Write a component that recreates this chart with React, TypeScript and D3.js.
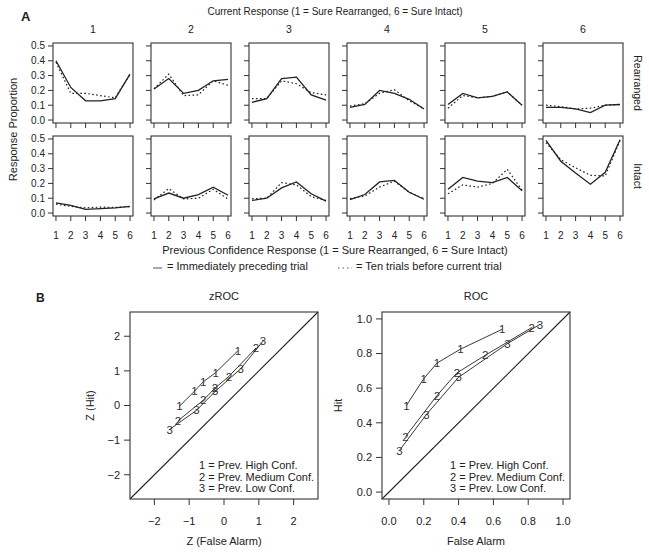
import React from "react";
import * as d3 from "d3";

// Panel A: response proportion by previous confidence response (1..6),
// one array per current response (1..6)
const responses = [1, 2, 3, 4, 5, 6];
const currentLabels = ["1", "2", "3", "4", "5", "6"];
const rowLabels = ["Rearranged", "Intact"];
const propTicks = [0, 0.1, 0.2, 0.3, 0.4, 0.5];

const rearrangedPrev1 = [
  [0.40, 0.22, 0.13, 0.13, 0.145, 0.31],
  [0.21, 0.28, 0.18, 0.20, 0.265, 0.275],
  [0.12, 0.145, 0.28, 0.29, 0.17, 0.135],
  [0.085, 0.105, 0.20, 0.18, 0.14, 0.075],
  [0.105, 0.18, 0.15, 0.16, 0.19, 0.10],
  [0.085, 0.085, 0.075, 0.05, 0.10, 0.105],
];
const rearrangedPrev10 = [
  [0.39, 0.18, 0.18, 0.165, 0.15, 0.31],
  [0.21, 0.31, 0.165, 0.17, 0.265, 0.235],
  [0.145, 0.145, 0.265, 0.245, 0.185, 0.17],
  [0.095, 0.11, 0.18, 0.205, 0.13, 0.075],
  [0.08, 0.165, 0.15, 0.16, 0.19, 0.10],
  [0.10, 0.09, 0.075, 0.08, 0.10, 0.105],
];
const intactPrev1 = [
  [0.068, 0.052, 0.025, 0.03, 0.035, 0.045],
  [0.095, 0.135, 0.10, 0.125, 0.175, 0.12],
  [0.085, 0.10, 0.17, 0.21, 0.13, 0.08],
  [0.09, 0.125, 0.21, 0.22, 0.14, 0.093],
  [0.16, 0.24, 0.215, 0.205, 0.24, 0.15],
  [0.49, 0.35, 0.27, 0.195, 0.275, 0.495],
];
const intactPrev10 = [
  [0.06, 0.045, 0.035, 0.04, 0.038, 0.043],
  [0.088, 0.165, 0.095, 0.10, 0.16, 0.095],
  [0.097, 0.10, 0.205, 0.19, 0.11, 0.085],
  [0.097, 0.115, 0.175, 0.215, 0.14, 0.097],
  [0.13, 0.19, 0.175, 0.20, 0.295, 0.155],
  [0.475, 0.36, 0.305, 0.255, 0.25, 0.49],
];

// Panel B: [false alarm, hit] points
const rocHigh = [[0.10, 0.50], [0.20, 0.655], [0.276, 0.745], [0.41, 0.825], [0.65, 0.94]];
const rocMed = [[0.095, 0.32], [0.276, 0.558], [0.39, 0.688], [0.553, 0.79], [0.82, 0.95]];
const rocLow = [[0.06, 0.24], [0.215, 0.448], [0.40, 0.663], [0.68, 0.857], [0.867, 0.968]];

const zHigh = [[-1.28, -0.02], [-0.85, 0.41], [-0.60, 0.68], [-0.24, 0.95], [0.40, 1.58]];
const zMed = [[-1.32, -0.44], [-0.60, 0.15], [-0.26, 0.50], [0.14, 0.84], [0.92, 1.66]];
const zLow = [[-1.56, -0.69], [-0.79, -0.14], [-0.25, 0.41], [0.48, 1.06], [1.12, 1.86]];

const legendLines = ["1 = Prev. High Conf.", "2 = Prev. Medium Conf.", "3 = Prev. Low Conf."];
const zTicks = [-2, -1, 0, 1, 2];
const rocTicks = [0, 0.2, 0.4, 0.6, 0.8, 1.0];

const FONT = "'Liberation Sans', Arial, sans-serif";
const INK = "#222";

const PW = 80, PH = 80, P_LEFT = 53, P_STEP = 98;
const ROW_TOP = [43, 136];

function SmallPanel({ x0, y0, imm, ten, yLabels, xLabels }) {
  const x = d3.scaleLinear().domain([0.8, 6.2]).range([0, PW]);
  const y = d3.scaleLinear().domain([-0.02, 0.52]).range([PH, 0]);
  const line = d3.line<number>().x((_, i) => x(responses[i])).y(d => y(d));
  return (
    <g transform={`translate(${x0},${y0})`}>
      <path d={line(ten)!} fill="none" stroke={INK} strokeWidth={1.2} strokeDasharray="1.6 2.4" />
      <path d={line(imm)!} fill="none" stroke={INK} strokeWidth={1.3} />
      <rect x={0} y={0} width={PW} height={PH} fill="none" stroke="#333" strokeWidth={1.1} />
      {propTicks.map(t => (
        <g key={t}>
          <line x1={-5} x2={0} y1={y(t)} y2={y(t)} stroke="#333" />
          {yLabels && (
            <text x={-8} y={y(t)} dy="0.35em" textAnchor="end" fontSize={10}>{d3.format(".1f")(t)}</text>
          )}
        </g>
      ))}
      {responses.map(r => (
        <g key={r}>
          <line x1={x(r)} x2={x(r)} y1={PH} y2={PH + 5} stroke="#333" />
          {xLabels && (
            <text x={x(r)} y={PH + 19} dy="0.35em" textAnchor="middle" fontSize={10}>{r}</text>
          )}
        </g>
      ))}
    </g>
  );
}

function RocPanel({ x0, y0, domain, ticks, fmt, series, xLabel, yLabel, title, yLabelX }) {
  const w = 188, h = 187;
  const x = d3.scaleLinear().domain(domain).range([0, w]);
  const y = d3.scaleLinear().domain(domain).range([h, 0]);
  const line = d3.line<number[]>().x(d => x(d[0])).y(d => y(d[1]));
  return (
    <g transform={`translate(${x0},${y0})`}>
      <text x={w / 2} y={-12} textAnchor="middle" fontSize={11}>{title}</text>
      <line x1={x(domain[0])} y1={y(domain[0])} x2={x(domain[1])} y2={y(domain[1])} stroke={INK} strokeWidth={1.1} />
      {series.map((s, i) => (
        <g key={i}>
          <path d={line(s)!} fill="none" stroke={INK} strokeWidth={0.9} />
          {s.map((d, j) => (
            <text key={j} x={x(d[0])} y={y(d[1])} dy="0.36em" textAnchor="middle" fontSize={11.5} fill="#333">{i + 1}</text>
          ))}
        </g>
      ))}
      <rect x={0} y={0} width={w} height={h} fill="none" stroke="#333" strokeWidth={1.1} />
      {ticks.map(t => (
        <g key={t}>
          <line x1={-6} x2={0} y1={y(t)} y2={y(t)} stroke="#333" />
          <text x={-10} y={y(t)} dy="0.35em" textAnchor="end" fontSize={11}>{fmt(t)}</text>
          <line x1={x(t)} x2={x(t)} y1={h} y2={h + 6} stroke="#333" />
          <text x={x(t)} y={h + 22} dy="0.35em" textAnchor="middle" fontSize={11}>{fmt(t)}</text>
        </g>
      ))}
      <text x={w / 2} y={h + 46} textAnchor="middle" fontSize={11}>{xLabel}</text>
      <text transform={`translate(${yLabelX},${h / 2}) rotate(-90)`} textAnchor="middle" fontSize={11}>{yLabel}</text>
      {legendLines.map((l, i) => (
        <text key={i} x={x0 < 300 ? 69 : 68} y={157 + i * 11.5} fontSize={11}>{l}</text>
      ))}
    </g>
  );
}

export default function App() {
  const rows = [
    { imm: rearrangedPrev1, ten: rearrangedPrev10 },
    { imm: intactPrev1, ten: intactPrev10 },
  ];
  const aRight = P_LEFT + 5 * P_STEP + PW;
  return (
    <svg width={649} height={557} style={{ position: "absolute", left: 0, top: 0, background: "#fff" }}
      fontFamily={FONT} fill={INK}>
      <text x={21} y={21} fontSize={13} fontWeight="bold">A</text>
      <text x={335} y={15} textAnchor="middle" fontSize={10}>Current Response (1 = Sure Rearranged, 6 = Sure Intact)</text>
      {currentLabels.map((c, i) => (
        <text key={c} x={P_LEFT + i * P_STEP + PW / 2} y={33} textAnchor="middle" fontSize={10.5}>{c}</text>
      ))}
      {rows.map((row, r) =>
        currentLabels.map((_, i) => (
          <SmallPanel key={`${r}-${i}`} x0={P_LEFT + i * P_STEP} y0={ROW_TOP[r]}
            imm={row.imm[i]} ten={row.ten[i]} yLabels={i === 0} xLabels={r === 1} />
        ))
      )}
      {rowLabels.map((l, r) => (
        <text key={l} transform={`translate(${aRight + 11},${ROW_TOP[r] + PH / 2}) rotate(90)`}
          textAnchor="middle" fontSize={10.5}>{l}</text>
      ))}
      <text transform={`translate(17,${(ROW_TOP[0] + ROW_TOP[1] + PH) / 2}) rotate(-90)`}
        textAnchor="middle" fontSize={11}>Response Proportion</text>
      <text x={335} y={254} textAnchor="middle" fontSize={11}>Previous Confidence Response (1 = Sure Rearranged, 6 = Sure Intact)</text>
      <line x1={153} x2={162} y1={268} y2={268} stroke="#555" strokeWidth={1} />
      <text x={167} y={270} fontSize={11}>= Immediately preceding trial</text>
      <line x1={338} x2={352} y1={268} y2={268} stroke="#555" strokeWidth={1} strokeDasharray="1.5 3" />
      <text x={356} y={270} fontSize={11}>= Ten trials before current trial</text>

      <text x={36} y={302} fontSize={12} fontWeight="bold">B</text>
      <RocPanel x0={130} y0={312} domain={[-2.7, 2.7]} ticks={zTicks} fmt={d3.format("d")}
        series={[zHigh, zMed, zLow]} xLabel="Z (False Alarm)" yLabel="Z (Hit)" title="zROC" yLabelX={-36} />
      <RocPanel x0={382} y0={312} domain={[-0.04, 1.04]} ticks={rocTicks} fmt={d3.format(".1f")}
        series={[rocHigh, rocMed, rocLow]} xLabel="False Alarm" yLabel="Hit" title="ROC" yLabelX={-40} />
    </svg>
  );
}
